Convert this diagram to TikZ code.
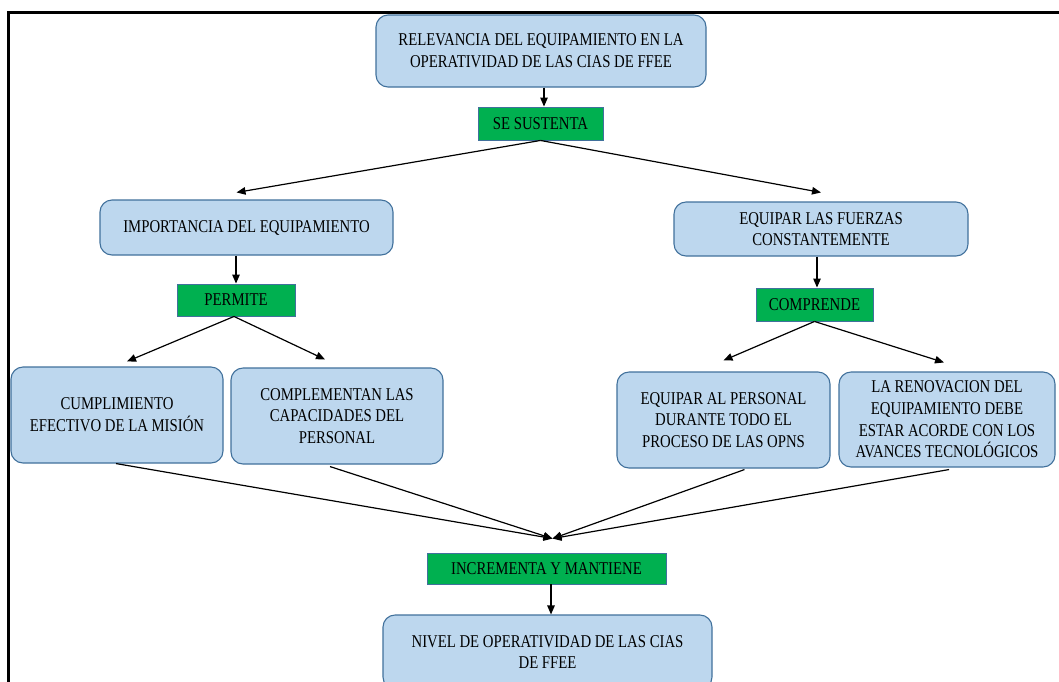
\documentclass[tikz,border=0pt]{standalone}
\usepackage{fontspec}
\setmainfont{Liberation Serif}[FakeStretch=0.82]
\usetikzlibrary{arrows.meta}
\definecolor{boxfill}{HTML}{BDD7EE}
\definecolor{boxline}{HTML}{41719C}
\definecolor{grn}{HTML}{00B050}
\tikzset{
  bluebox/.style={draw=boxline, fill=boxfill, line width=1.1pt, rounded corners=12pt,
    align=center, inner sep=0pt, font=\fontsize{18}{21.7}\selectfont},
  greenbox/.style={draw=boxline, fill=grn, line width=0.9pt,
    align=center, inner sep=0pt, font=\fontsize{18}{21.7}\selectfont},
  arr/.style={line width=1.2pt, -{Triangle[length=9pt,width=7.5pt]}},
}
\begin{document}
\begin{tikzpicture}[x=1pt,y=-1pt]
\useasboundingbox (0,0) rectangle (1059,681);
\clip (0,0) rectangle (1059,681);
\fill[white] (0,0) rectangle (1059,681);
% frame
\draw[line width=3pt] (8.5,700) -- (8.5,12.5) -- (1070,12.5);
% nodes
\node[bluebox, minimum width=330pt, minimum height=72pt] (top) at (541,51)
  {RELEVANCIA DEL EQUIPAMIENTO EN LA\\OPERATIVIDAD DE LAS CIAS DE FFEE};
\node[greenbox, minimum width=125pt, minimum height=33pt] (ss) at (540.5,123.5) {SE SUSTENTA};
\node[bluebox, minimum width=293pt, minimum height=55pt] (imp) at (246.5,227.5)
  {IMPORTANCIA DEL EQUIPAMIENTO};
\node[bluebox, minimum width=294pt, minimum height=54pt] (eqf) at (821,229)
  {EQUIPAR LAS FUERZAS\\CONSTANTEMENTE};
\node[greenbox, minimum width=118pt, minimum height=32pt] (perm) at (236,300) {PERMITE};
\node[greenbox, minimum width=117pt, minimum height=33pt] (comp) at (814.5,304.5) {COMPRENDE};
\node[bluebox, minimum width=212pt, minimum height=96pt] (cum) at (117,415)
  {CUMPLIMIENTO\\EFECTIVO DE LA MISIÓN};
\node[bluebox, minimum width=212pt, minimum height=96pt] (cpl) at (337,416)
  {COMPLEMENTAN LAS\\CAPACIDADES DEL\\PERSONAL};
\node[bluebox, minimum width=213pt, minimum height=96pt] (eqp) at (723.5,420)
  {EQUIPAR AL PERSONAL\\DURANTE TODO EL\\PROCESO DE LAS OPNS};
\node[bluebox, minimum width=216pt, minimum height=95pt] (ren) at (947,419.5)
  {LA RENOVACION DEL\\EQUIPAMIENTO DEBE\\ESTAR ACORDE CON LOS\\AVANCES TECNOLÓGICOS};
\node[greenbox, minimum width=239pt, minimum height=31pt] (inc) at (546.5,568.5) {INCREMENTA Y MANTIENE};
\node[bluebox, minimum width=329pt, minimum height=74pt] (niv) at (547.5,652)
  {NIVEL DE OPERATIVIDAD DE LAS CIAS\\DE FFEE};
\coordinate (conv) at ([xshift=6pt,yshift=14pt]inc.north);
% connectors
\draw[arr] ([xshift=3pt]top.south) -- ([xshift=3pt]top.south |- ss.north);
\draw[arr] (ss.south) -- ([xshift=-10pt,yshift=7pt]imp.north);
\draw[arr] (ss.south) -- ([yshift=9pt]eqf.north);
\draw[arr] ([xshift=-10.5pt]imp.south) -- ([xshift=-10.5pt]imp.south |- perm.north);
\draw[arr] ([xshift=-4pt]eqf.south) -- ([xshift=-4pt]eqf.south |- comp.north);
\draw[arr] ([xshift=-2pt]perm.south) -- ([xshift=10pt,yshift=5pt]cum.north);
\draw[arr] ([xshift=-2pt]perm.south) -- ([xshift=-12pt,yshift=8pt]cpl.north);
\draw[arr] (comp.south) -- ([yshift=11pt]eqp.north);
\draw[arr] (comp.south) -- ([xshift=-3pt,yshift=9pt]ren.north);
\draw[arr] ([xshift=-1pt]cum.south) -- (conv);
\draw[arr] ([xshift=-7pt,yshift=-2pt]cpl.south) -- (conv);
\draw[arr] ([xshift=21pt,yshift=-1pt]eqp.south) -- (conv);
\draw[arr] ([xshift=2pt,yshift=-2pt]ren.south) -- (conv);
\draw[arr] ([xshift=4.5pt]inc.south) -- ([xshift=4.5pt]inc.south |- niv.north);
\end{tikzpicture}
\end{document}
